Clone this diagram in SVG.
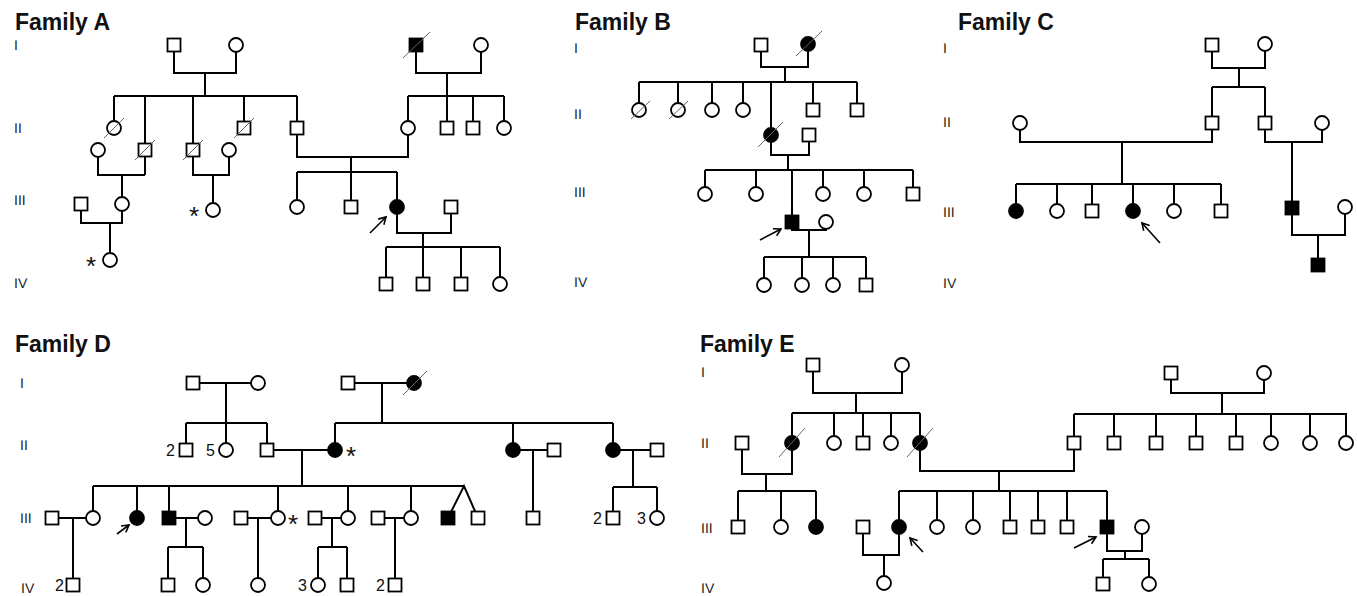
<svg xmlns="http://www.w3.org/2000/svg" xmlns:xlink="http://www.w3.org/1999/xlink" width="1357" height="596" viewBox="0 0 1357 596">
<style>
  .ln{fill:none;stroke:#000;stroke-width:2;stroke-linejoin:miter}
  .o{fill:#fff;stroke:#000;stroke-width:1.8}
  .a{fill:#000;stroke:#000;stroke-width:1.8}
  .sl{stroke:#666;stroke-width:1}
  .ar{fill:none;stroke:#000;stroke-width:1.6}
  .ttl{font-family:"Liberation Sans",Arial,sans-serif;font-weight:bold;font-size:23px;fill:#111}
  .gen{font-family:"Liberation Sans",Arial,sans-serif;font-size:14px;fill:#222;text-rendering:geometricPrecision}
  .num{font-family:"Liberation Sans",Arial,sans-serif;font-size:16px;fill:#111}
  .ast{font-family:"Liberation Sans",Arial,sans-serif;font-size:26px;fill:#111;text-anchor:middle}
</style>
<defs>
  <rect id="m" x="-6.5" y="-6.5" width="13" height="13"/>
  <circle id="f" r="7"/>
  <marker id="head" markerWidth="12" markerHeight="12" refX="0" refY="0" viewBox="-10 -6 12 12" orient="auto" markerUnits="userSpaceOnUse">
    <path d="M-7,-4 L0,0 L-7,4" fill="none" stroke="#000" stroke-width="1.6"/>
  </marker>
</defs>
<rect width="1357" height="596" fill="#fff"/>

<!-- titles and generation numerals -->
<g id="labels">
  <text class="ttl" x="15" y="30">Family A</text>
  <text class="ttl" x="575" y="30">Family B</text>
  <text class="ttl" x="958" y="30">Family C</text>
  <text class="ttl" x="15" y="352">Family D</text>
  <text class="ttl" x="700" y="352">Family E</text>

  <text class="gen" x="14" y="50">I</text>
  <text class="gen" x="14" y="133">II</text>
  <text class="gen" x="14" y="205">III</text>
  <text class="gen" x="14" y="288">IV</text>

  <text class="gen" x="574" y="53">I</text>
  <text class="gen" x="574" y="119">II</text>
  <text class="gen" x="574" y="197">III</text>
  <text class="gen" x="574" y="287">IV</text>

  <text class="gen" x="943" y="53">I</text>
  <text class="gen" x="943" y="127">II</text>
  <text class="gen" x="943" y="217">III</text>
  <text class="gen" x="943" y="288">IV</text>

  <text class="gen" x="20" y="388">I</text>
  <text class="gen" x="20" y="450">II</text>
  <text class="gen" x="20" y="523">III</text>
  <text class="gen" x="21" y="593">IV</text>

  <text class="gen" x="701" y="377">I</text>
  <text class="gen" x="701" y="448">II</text>
  <text class="gen" x="701" y="533">III</text>
  <text class="gen" x="701" y="593">IV</text>
</g>

<!-- connecting lines -->
<g id="connectors">
  <!-- Family A -->
  <path class="ln" d="M174 45V73H236V45M205 73V96M114 96H297M114 96V128M145 96V175M193 96V150M244 96V128M297 96V128
    M98 150V175H145M122 175V203M193 150V175H229V150M213 175V210
    M81 204V223H122V203M110 223V259
    M297 128V157H408V128M351 157V172M297 172H397M297 172V207M351 172V207M397 172V207
    M397 207V233H451V207M423 233V247M386 247H500M386 247V284M423 247V284M461 247V284M500 247V284
    M416 45V73H481V45M447 73V96M408 96H504M408 96V128M447 96V128M473 96V128M504 96V128"/>
  <!-- Family B -->
  <path class="ln" d="M761 45V67H808V44M785 67V82M639 82H857M639 82V110M678 82V110M712 82V110M743 82V110M771 82V135M813 82V110M857 82V110
    M771 135V155H809V135M788 155V170M705 170H913M705 170V194M756 170V194M792 170V222M823 170V194M864 170V194M913 170V194
    M792 222V230H826V222M809 230V257M764 257H866M764 257V285M802 257V285M833 257V285M866 257V285"/>
  <!-- Family C -->
  <path class="ln" d="M1212 45V68H1265V44M1239 68V87M1212 87H1265M1212 87V123M1265 87V123
    M1020 123V142H1212V123M1122 142V184M1016 184H1221M1016 184V211M1057 184V211M1092 184V211M1133 184V211M1174 184V211M1221 184V211
    M1265 123V142H1322V123M1292 142V208M1292 208V235H1345V207M1318 235V265"/>
  <!-- Family D -->
  <path class="ln" d="M193 383H258M226 383V423M186 423H267M186 423V450M226 423V450M267 423V450
    M267 450H335M302 450V486M93 486H464
    M348 383H414M382 383V423M335 423H613M335 423V450M513 423V450M613 423V450
    M93 486V518M137 486V518M169 486V518M278 486V518M348 486V518M411 486V518M448 518L464 486L478 518
    M52 518H93M73 518V585
    M169 518H205M186 518V547M168 547H203M168 547V585M203 547V585
    M241 518H278M258 518V585
    M315 518H348M332 518V547M318 547H347M318 547V585M347 547V585
    M378 518H411M395 518V585
    M513 450H554M533 450V518
    M613 450H657M633 450V487M613 487H657M613 487V518M657 487V518"/>
  <!-- Family E -->
  <path class="ln" d="M813 365V393H902V365M856 393V413M792 413H920M792 413V443M834 413V443M863 413V443M891 413V443M920 413V443
    M742 443V474H792V443M766 474V491M738 491H816M738 491V527M781 491V527M816 491V527
    M920 443V471H1074V443M999 471V491M899 491H1107M899 491V527M937 491V527M973 491V527M1010 491V527M1038 491V527M1067 491V527M1107 491V527
    M863 527V555H899V527M884 555V583
    M1107 527V551H1142V527M1125 551V559M1103 559H1149M1103 559V584M1149 559V584
    M1171 373V393H1264V373M1222 393V414M1074 414H1347M1074 414V443M1114 414V443M1156 414V443M1196 414V443M1236 414V443M1271 414V443M1310 414V443M1346 414V443"/>
</g>

<!-- Family A individuals -->
<g id="fam-a">
  <g id="a-I-1"><use href="#m" class="o" x="174" y="45"/></g>
  <g id="a-I-2"><use href="#f" class="o" x="236" y="45"/></g>
  <g id="a-I-3"><use href="#m" class="a" x="416" y="45"/><line class="sl" x1="403" y1="58" x2="430" y2="32"/></g>
  <g id="a-I-4"><use href="#f" class="o" x="481" y="45"/></g>
  <g id="a-II-1"><use href="#f" class="o" x="114" y="128"/><line class="sl" x1="104" y1="138" x2="124" y2="118"/></g>
  <g id="a-II-2"><use href="#f" class="o" x="98" y="150"/></g>
  <g id="a-II-3"><use href="#m" class="o" x="145" y="150"/><line class="sl" x1="135" y1="160" x2="155" y2="140"/></g>
  <g id="a-II-4"><use href="#m" class="o" x="193" y="150"/><line class="sl" x1="183" y1="160" x2="203" y2="140"/></g>
  <g id="a-II-5"><use href="#f" class="o" x="229" y="150"/></g>
  <g id="a-II-6"><use href="#m" class="o" x="244" y="128"/><line class="sl" x1="234" y1="138" x2="254" y2="118"/></g>
  <g id="a-II-7"><use href="#m" class="o" x="297" y="128"/></g>
  <g id="a-II-8"><use href="#f" class="o" x="408" y="128"/></g>
  <g id="a-II-9"><use href="#m" class="o" x="447" y="128"/></g>
  <g id="a-II-10"><use href="#m" class="o" x="473" y="128"/></g>
  <g id="a-II-11"><use href="#f" class="o" x="504" y="128"/></g>
  <g id="a-III-1"><use href="#m" class="o" x="81" y="204"/></g>
  <g id="a-III-2"><use href="#f" class="o" x="122" y="204"/></g>
  <g id="a-III-3"><use href="#f" class="o" x="213" y="210"/><text class="ast" x="194" y="225">*</text></g>
  <g id="a-III-4"><use href="#f" class="o" x="297" y="207"/></g>
  <g id="a-III-5"><use href="#m" class="o" x="351" y="207"/></g>
  <g id="a-III-6"><use href="#f" class="a" x="397" y="207"/><line class="ar" x1="370" y1="233" x2="386" y2="217" marker-end="url(#head)"/></g>
  <g id="a-III-7"><use href="#m" class="o" x="451" y="207"/></g>
  <g id="a-IV-1"><use href="#f" class="o" x="110" y="260"/><text class="ast" x="91" y="275">*</text></g>
  <g id="a-IV-2"><use href="#m" class="o" x="386" y="284"/></g>
  <g id="a-IV-3"><use href="#m" class="o" x="423" y="284"/></g>
  <g id="a-IV-4"><use href="#m" class="o" x="461" y="284"/></g>
  <g id="a-IV-5"><use href="#f" class="o" x="500" y="284"/></g>
</g>

<!-- Family B individuals -->
<g id="fam-b">
  <g id="b-I-1"><use href="#m" class="o" x="761" y="45"/></g>
  <g id="b-I-2"><use href="#f" class="a" x="808" y="44"/><line class="sl" x1="796" y1="56" x2="822" y2="31"/></g>
  <g id="b-II-1"><use href="#f" class="o" x="639" y="110"/><line class="sl" x1="631" y1="119" x2="650" y2="101"/></g>
  <g id="b-II-2"><use href="#f" class="o" x="678" y="110"/><line class="sl" x1="669" y1="119" x2="688" y2="101"/></g>
  <g id="b-II-3"><use href="#f" class="o" x="712" y="110"/></g>
  <g id="b-II-4"><use href="#f" class="o" x="743" y="110"/></g>
  <g id="b-II-5"><use href="#f" class="a" x="771" y="135"/><line class="sl" x1="758" y1="147" x2="783" y2="122"/></g>
  <g id="b-II-6"><use href="#m" class="o" x="809" y="135"/></g>
  <g id="b-II-7"><use href="#m" class="o" x="813" y="110"/></g>
  <g id="b-II-8"><use href="#m" class="o" x="857" y="110"/></g>
  <g id="b-III-1"><use href="#f" class="o" x="705" y="194"/></g>
  <g id="b-III-2"><use href="#f" class="o" x="756" y="194"/></g>
  <g id="b-III-3"><use href="#m" class="a" x="792" y="222"/><line class="ar" x1="760" y1="240" x2="781" y2="229" marker-end="url(#head)"/></g>
  <g id="b-III-4"><use href="#f" class="o" x="826" y="222"/></g>
  <g id="b-III-5"><use href="#f" class="o" x="823" y="194"/></g>
  <g id="b-III-6"><use href="#f" class="o" x="864" y="194"/></g>
  <g id="b-III-7"><use href="#m" class="o" x="913" y="194"/></g>
  <g id="b-IV-1"><use href="#f" class="o" x="764" y="285"/></g>
  <g id="b-IV-2"><use href="#f" class="o" x="802" y="285"/></g>
  <g id="b-IV-3"><use href="#f" class="o" x="833" y="285"/></g>
  <g id="b-IV-4"><use href="#m" class="o" x="866" y="285"/></g>
</g>

<!-- Family C individuals -->
<g id="fam-c">
  <g id="c-I-1"><use href="#m" class="o" x="1212" y="45"/></g>
  <g id="c-I-2"><use href="#f" class="o" x="1265" y="44"/></g>
  <g id="c-II-1"><use href="#f" class="o" x="1020" y="123"/></g>
  <g id="c-II-2"><use href="#m" class="o" x="1212" y="123"/></g>
  <g id="c-II-3"><use href="#m" class="o" x="1265" y="123"/></g>
  <g id="c-II-4"><use href="#f" class="o" x="1322" y="123"/></g>
  <g id="c-III-1"><use href="#f" class="a" x="1016" y="211"/></g>
  <g id="c-III-2"><use href="#f" class="o" x="1057" y="211"/></g>
  <g id="c-III-3"><use href="#m" class="o" x="1092" y="211"/></g>
  <g id="c-III-4"><use href="#f" class="a" x="1133" y="211"/><line class="ar" x1="1160" y1="243" x2="1142" y2="223" marker-end="url(#head)"/></g>
  <g id="c-III-5"><use href="#f" class="o" x="1174" y="211"/></g>
  <g id="c-III-6"><use href="#m" class="o" x="1221" y="211"/></g>
  <g id="c-III-7"><use href="#m" class="a" x="1292" y="208"/></g>
  <g id="c-III-8"><use href="#f" class="o" x="1345" y="207"/></g>
  <g id="c-IV-1"><use href="#m" class="a" x="1318" y="265"/></g>
</g>

<!-- Family D individuals -->
<g id="fam-d">
  <g id="d-I-1"><use href="#m" class="o" x="193" y="383"/></g>
  <g id="d-I-2"><use href="#f" class="o" x="258" y="383"/></g>
  <g id="d-I-3"><use href="#m" class="o" x="348" y="383"/></g>
  <g id="d-I-4"><use href="#f" class="a" x="414" y="383"/><line class="sl" x1="403" y1="395" x2="427" y2="371"/></g>
  <g id="d-II-1"><use href="#m" class="o" x="186" y="450"/><text class="num" x="166" y="456">2</text></g>
  <g id="d-II-2"><use href="#f" class="o" x="226" y="450"/><text class="num" x="206" y="456">5</text></g>
  <g id="d-II-3"><use href="#m" class="o" x="267" y="450"/></g>
  <g id="d-II-4"><use href="#f" class="a" x="335" y="450"/><text class="ast" x="351" y="465">*</text></g>
  <g id="d-II-5"><use href="#f" class="a" x="513" y="450"/></g>
  <g id="d-II-6"><use href="#m" class="o" x="554" y="450"/></g>
  <g id="d-II-7"><use href="#f" class="a" x="613" y="450"/></g>
  <g id="d-II-8"><use href="#m" class="o" x="657" y="450"/></g>
  <g id="d-III-1"><use href="#m" class="o" x="52" y="518"/></g>
  <g id="d-III-2"><use href="#f" class="o" x="93" y="518"/></g>
  <g id="d-III-3"><use href="#f" class="a" x="137" y="518"/><line class="ar" x1="117" y1="534" x2="129" y2="525" marker-end="url(#head)"/></g>
  <g id="d-III-4"><use href="#m" class="a" x="169" y="518"/></g>
  <g id="d-III-5"><use href="#f" class="o" x="205" y="518"/></g>
  <g id="d-III-6"><use href="#m" class="o" x="241" y="518"/></g>
  <g id="d-III-7"><use href="#f" class="o" x="278" y="518"/><text class="ast" x="293" y="533">*</text></g>
  <g id="d-III-8"><use href="#m" class="o" x="315" y="518"/></g>
  <g id="d-III-9"><use href="#f" class="o" x="348" y="518"/></g>
  <g id="d-III-10"><use href="#m" class="o" x="378" y="518"/></g>
  <g id="d-III-11"><use href="#f" class="o" x="411" y="518"/></g>
  <g id="d-III-12"><use href="#m" class="a" x="448" y="518"/></g>
  <g id="d-III-13"><use href="#m" class="o" x="478" y="518"/></g>
  <g id="d-III-14"><use href="#m" class="o" x="533" y="518"/></g>
  <g id="d-III-15"><use href="#m" class="o" x="613" y="518"/><text class="num" x="593" y="524">2</text></g>
  <g id="d-III-16"><use href="#f" class="o" x="657" y="518"/><text class="num" x="637" y="524">3</text></g>
  <g id="d-IV-1"><use href="#m" class="o" x="73" y="585"/><text class="num" x="55" y="591">2</text></g>
  <g id="d-IV-2"><use href="#m" class="o" x="168" y="585"/></g>
  <g id="d-IV-3"><use href="#f" class="o" x="203" y="585"/></g>
  <g id="d-IV-4"><use href="#f" class="o" x="258" y="585"/></g>
  <g id="d-IV-5"><use href="#f" class="o" x="318" y="585"/><text class="num" x="298" y="591">3</text></g>
  <g id="d-IV-6"><use href="#m" class="o" x="347" y="585"/></g>
  <g id="d-IV-7"><use href="#m" class="o" x="395" y="585"/><text class="num" x="376" y="591">2</text></g>
</g>

<!-- Family E individuals -->
<g id="fam-e">
  <g id="e-I-1"><use href="#m" class="o" x="813" y="365"/></g>
  <g id="e-I-2"><use href="#f" class="o" x="902" y="365"/></g>
  <g id="e-I-3"><use href="#m" class="o" x="1171" y="373"/></g>
  <g id="e-I-4"><use href="#f" class="o" x="1264" y="373"/></g>
  <g id="e-II-1"><use href="#m" class="o" x="742" y="443"/></g>
  <g id="e-II-2"><use href="#f" class="a" x="792" y="443"/><line class="sl" x1="779" y1="457" x2="805" y2="428"/></g>
  <g id="e-II-3"><use href="#f" class="o" x="834" y="443"/></g>
  <g id="e-II-4"><use href="#m" class="o" x="863" y="443"/></g>
  <g id="e-II-5"><use href="#f" class="o" x="891" y="443"/></g>
  <g id="e-II-6"><use href="#f" class="a" x="920" y="443"/><line class="sl" x1="907" y1="457" x2="933" y2="428"/></g>
  <g id="e-II-7"><use href="#m" class="o" x="1074" y="443"/></g>
  <g id="e-II-8"><use href="#m" class="o" x="1114" y="443"/></g>
  <g id="e-II-9"><use href="#m" class="o" x="1156" y="443"/></g>
  <g id="e-II-10"><use href="#m" class="o" x="1196" y="443"/></g>
  <g id="e-II-11"><use href="#m" class="o" x="1236" y="443"/></g>
  <g id="e-II-12"><use href="#f" class="o" x="1271" y="443"/></g>
  <g id="e-II-13"><use href="#f" class="o" x="1310" y="443"/></g>
  <g id="e-II-14"><use href="#f" class="o" x="1346" y="443"/></g>
  <g id="e-III-1"><use href="#m" class="o" x="738" y="527"/></g>
  <g id="e-III-2"><use href="#f" class="o" x="781" y="527"/></g>
  <g id="e-III-3"><use href="#f" class="a" x="816" y="527"/></g>
  <g id="e-III-4"><use href="#m" class="o" x="863" y="527"/></g>
  <g id="e-III-5"><use href="#f" class="a" x="899" y="527"/><line class="ar" x1="923" y1="552" x2="910" y2="538" marker-end="url(#head)"/></g>
  <g id="e-III-6"><use href="#f" class="o" x="937" y="527"/></g>
  <g id="e-III-7"><use href="#f" class="o" x="973" y="527"/></g>
  <g id="e-III-8"><use href="#m" class="o" x="1010" y="527"/></g>
  <g id="e-III-9"><use href="#m" class="o" x="1038" y="527"/></g>
  <g id="e-III-10"><use href="#m" class="o" x="1067" y="527"/></g>
  <g id="e-III-11"><use href="#m" class="a" x="1107" y="527"/><line class="ar" x1="1074" y1="548" x2="1096" y2="537" marker-end="url(#head)"/></g>
  <g id="e-III-12"><use href="#f" class="o" x="1142" y="527"/></g>
  <g id="e-IV-1"><use href="#f" class="o" x="884" y="583"/></g>
  <g id="e-IV-2"><use href="#m" class="o" x="1103" y="584"/></g>
  <g id="e-IV-3"><use href="#f" class="o" x="1149" y="584"/></g>
</g>
</svg>
